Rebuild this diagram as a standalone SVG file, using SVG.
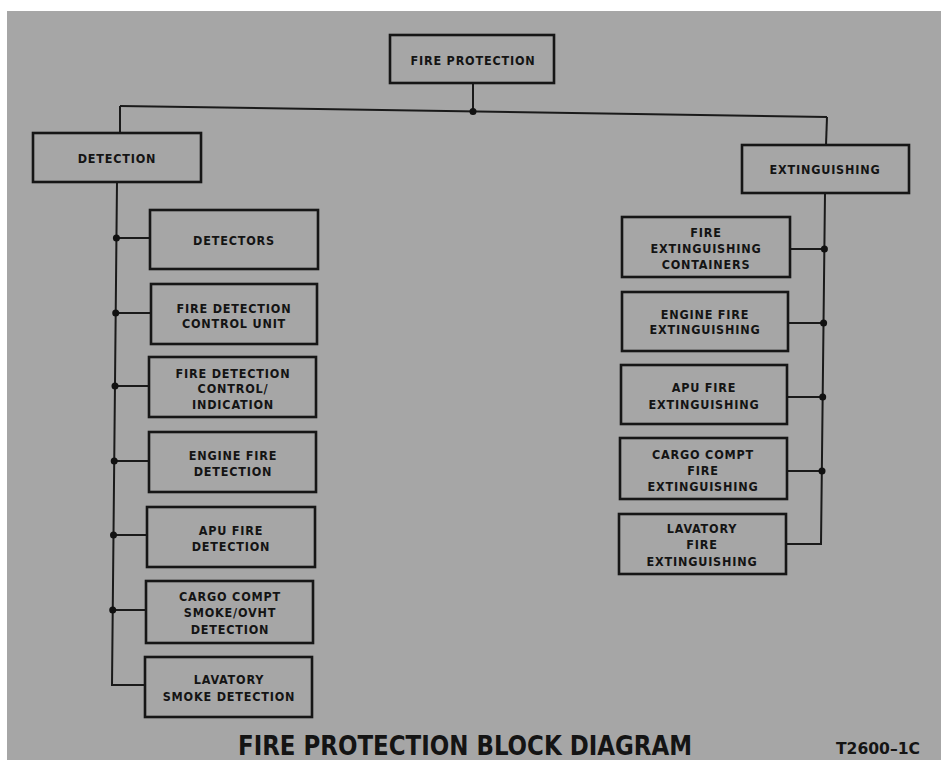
<svg xmlns="http://www.w3.org/2000/svg" width="941" height="760" viewBox="0 0 941 760">
<style>
.box{fill:none;stroke:#161616;stroke-width:2.6}
.ln{fill:none;stroke:#1a1a1a;stroke-width:2}
.dot{fill:#111}
.t{font-family:"DejaVu Sans Condensed","Liberation Sans Narrow","Liberation Sans",sans-serif;font-weight:bold;font-size:12.5px;fill:#141414;text-anchor:middle;letter-spacing:0.8px}
.title{font-family:"DejaVu Sans Condensed","Liberation Sans",sans-serif;font-weight:bold;font-size:26px;fill:#141414}
.code{font-family:"DejaVu Sans Condensed","Liberation Sans",sans-serif;font-weight:bold;font-size:15px;fill:#141414}
</style>
<rect x="0" y="0" width="941" height="760" fill="#ffffff"/>
<rect x="7" y="11" width="934" height="749" fill="#a6a6a6"/>

<g id="connectors">
<line class="ln" x1="473" y1="83" x2="473" y2="111"/>
<line class="ln" x1="120" y1="106" x2="827" y2="117"/>
<line class="ln" x1="120" y1="106" x2="120" y2="133"/>
<line class="ln" x1="827" y1="117" x2="826" y2="145"/>
<circle class="dot" cx="473" cy="111.5" r="3.5"/>
<polyline class="ln" points="117,182 112,685 145,685"/>
<line class="ln" x1="116.4" y1="238" x2="150" y2="238"/>
<line class="ln" x1="115.7" y1="313" x2="151" y2="313"/>
<line class="ln" x1="115" y1="386" x2="149" y2="386"/>
<line class="ln" x1="114.2" y1="461" x2="149" y2="461"/>
<line class="ln" x1="113.5" y1="535" x2="147" y2="535"/>
<line class="ln" x1="112.7" y1="610" x2="146" y2="610"/>
<circle class="dot" cx="116.4" cy="238" r="3.5"/>
<circle class="dot" cx="115.7" cy="313" r="3.5"/>
<circle class="dot" cx="115" cy="386" r="3.5"/>
<circle class="dot" cx="114.2" cy="461" r="3.5"/>
<circle class="dot" cx="113.5" cy="535" r="3.5"/>
<circle class="dot" cx="112.7" cy="610" r="3.5"/>
<polyline class="ln" points="825,193 821,544 786,544"/>
<line class="ln" x1="790" y1="249" x2="824.4" y2="249"/>
<line class="ln" x1="788" y1="323" x2="823.6" y2="323"/>
<line class="ln" x1="787" y1="397" x2="822.7" y2="397"/>
<line class="ln" x1="787" y1="471" x2="822" y2="471"/>
<circle class="dot" cx="824.4" cy="249" r="3.5"/>
<circle class="dot" cx="823.6" cy="323" r="3.5"/>
<circle class="dot" cx="822.7" cy="397" r="3.5"/>
<circle class="dot" cx="822" cy="471" r="3.5"/>
</g>

<g id="fire-protection">
<rect class="box" x="390" y="35" width="164" height="48"/>
<text class="t" x="473" y="65">FIRE PROTECTION</text>
</g>
<g id="detection">
<rect class="box" x="33" y="133" width="168" height="49"/>
<text class="t" x="117" y="163">DETECTION</text>
</g>
<g id="extinguishing">
<rect class="box" x="742" y="145" width="167" height="48"/>
<text class="t" x="825" y="174">EXTINGUISHING</text>
</g>

<g id="detectors">
<rect class="box" x="150" y="210" width="168" height="59"/>
<text class="t" x="234" y="245">DETECTORS</text>
</g>
<g id="fire-detection-control-unit">
<rect class="box" x="151" y="284" width="166" height="60"/>
<text class="t" x="234" y="313">FIRE DETECTION</text>
<text class="t" x="234" y="328">CONTROL UNIT</text>
</g>
<g id="fire-detection-control-indication">
<rect class="box" x="149" y="357" width="167" height="60"/>
<text class="t" x="233" y="378">FIRE DETECTION</text>
<text class="t" x="233" y="393">CONTROL/</text>
<text class="t" x="233" y="409">INDICATION</text>
</g>
<g id="engine-fire-detection">
<rect class="box" x="149" y="432" width="167" height="60"/>
<text class="t" x="233" y="460">ENGINE FIRE</text>
<text class="t" x="233" y="476">DETECTION</text>
</g>
<g id="apu-fire-detection">
<rect class="box" x="147" y="507" width="168" height="60"/>
<text class="t" x="231" y="535">APU FIRE</text>
<text class="t" x="231" y="551">DETECTION</text>
</g>
<g id="cargo-compt-smoke-ovht-detection">
<rect class="box" x="146" y="581" width="167" height="62"/>
<text class="t" x="230" y="601">CARGO COMPT</text>
<text class="t" x="230" y="617">SMOKE/OVHT</text>
<text class="t" x="230" y="634">DETECTION</text>
</g>
<g id="lavatory-smoke-detection">
<rect class="box" x="145" y="657" width="167" height="60"/>
<text class="t" x="229" y="684">LAVATORY</text>
<text class="t" x="229" y="701">SMOKE DETECTION</text>
</g>

<g id="fire-extinguishing-containers">
<rect class="box" x="622" y="217" width="168" height="60"/>
<text class="t" x="706" y="237">FIRE</text>
<text class="t" x="706" y="253">EXTINGUISHING</text>
<text class="t" x="706" y="269">CONTAINERS</text>
</g>
<g id="engine-fire-extinguishing">
<rect class="box" x="622" y="292" width="166" height="59"/>
<text class="t" x="705" y="319">ENGINE FIRE</text>
<text class="t" x="705" y="334">EXTINGUISHING</text>
</g>
<g id="apu-fire-extinguishing">
<rect class="box" x="621" y="365" width="166" height="59"/>
<text class="t" x="704" y="392">APU FIRE</text>
<text class="t" x="704" y="409">EXTINGUISHING</text>
</g>
<g id="cargo-compt-fire-extinguishing">
<rect class="box" x="620" y="438" width="167" height="61"/>
<text class="t" x="703" y="459">CARGO COMPT</text>
<text class="t" x="703" y="475">FIRE</text>
<text class="t" x="703" y="491">EXTINGUISHING</text>
</g>
<g id="lavatory-fire-extinguishing">
<rect class="box" x="619" y="514" width="167" height="60"/>
<text class="t" x="702" y="533">LAVATORY</text>
<text class="t" x="702" y="549">FIRE</text>
<text class="t" x="702" y="566">EXTINGUISHING</text>
</g>

<text class="title" x="238" y="755" textLength="454" lengthAdjust="spacingAndGlyphs">FIRE PROTECTION BLOCK DIAGRAM</text>
<text class="code" x="836" y="754" textLength="84" lengthAdjust="spacingAndGlyphs">T2600–1C</text>
</svg>
